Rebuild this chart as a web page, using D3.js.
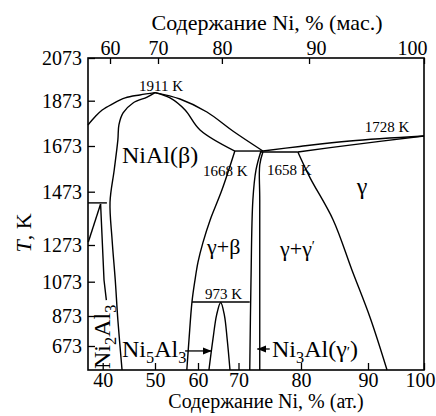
<!DOCTYPE html>
<html><head><meta charset="utf-8">
<script src="https://cdn.jsdelivr.net/npm/d3@7"></script>
<style>
body{margin:0;background:#fff}
svg{display:block}
text{font-family:"Liberation Serif","DejaVu Serif","Times New Roman",serif;fill:#000}
</style>
</head><body>
<svg id="c" width="436" height="416" font-family="Liberation Serif, DejaVu Serif, serif"></svg>
<script>
// ---------- data (at.% Ni, temperature K) ----------
const atTicks = [40, 50, 60, 70, 80, 90, 100];
const wtTicks = [60, 70, 80, 90, 100];
const wtTickAtPos = [41.4, 50.7, 65.9, 81.2, 100];   // where the wt.% ticks sit on the at.% axis
const tempTicks = [673, 873, 1073, 1273, 1473, 1673, 1873, 2073];

const liquidusAl = [[37.2,1766],[38.5,1801],[39.9,1832],[41.8,1858],[44.3,1886],[47.1,1900],[50,1911]];
const betaAlSide = [[50,1911],[48.5,1890],[45.8,1863],[43.9,1819],[43.1,1766],[42.9,1700],[42.2,1568],[41.4,1434],[41.8,1292],[42.4,1082],[42.9,846],[43.7,513]];
const liquidusMid = [[50,1911],[55.8,1881],[62.2,1823],[68.6,1739],[73.9,1651]];
const betaNiSideTop = [[50,1911],[53.5,1886],[57.0,1832],[60.5,1744],[69.1,1651]];
const betaNiSide = [[69.1,1651],[65.9,1480],[63.0,1367],[61.2,1281],[60.0,1180],[59.3,1082],[58.6,955],[57.9,713],[57.4,513]];
const peritectic1668 = [[69.1,1651],[73.9,1651]];
const peritectic1658 = [[73.6,1647],[79.5,1647]];
const gammaPrimeLeft = [[73.6,1651],[72.8,1568],[72.3,1442],[72.0,1082],[71.8,513]];
const gammaPrimeRight = [[73.9,1647],[73.4,1590],[73.4,1442],[73.4,513]];
const liquidusNi = [[73.9,1651],[79.8,1671],[87.3,1695],[100,1717]];
const solidusNi = [[79.5,1647],[87.3,1677],[100,1717]];
const gammaSolvus = [[79.5,1647],[81.3,1537],[84.8,1367],[87.6,1137],[90.4,860],[93.4,513]];
const eutectoid973 = [[58.6,955],[71.8,955]];
const ni5al3Dome = [[62.7,513],[63.7,720],[64.6,880],[65.6,952],[66.5,880],[67.2,720],[67.9,513]];
const peritectic1406 = [[37.2,1431],[40.8,1431]];
const ni2al3Line = [[39.6,1427],[40.25,1082],[40.7,966]];
const liquidusAlLow = [[39.6,1427],[37.26,1284]];
const arrowNi5Al3 = [[57.0,640],[63.4,640]];
const arrowNi3Al = [[75.0,653],[73.0,653]];

// ---------- layout ----------
const FONT = '"Liberation Serif","DejaVu Serif",serif';
const L = 88, R = 424, T = 58, B = 370;
const x = d3.scaleLinear()
  .domain([37.2, 40, 50, 60, 70, 80, 90, 100])
  .range([L, 102.7, 155, 198, 238.5, 301, 368, R]);
const y = d3.scaleLinear()
  .domain([513, 673, 873, 1073, 1273, 1473, 1673, 1873, 2073])
  .range([B, 346, 316, 281.7, 245, 191.7, 146, 100.7, T]);

const svg = d3.select("#c");
const g = svg.append("g");

// axes
const axB = d3.axisBottom(x).tickValues(atTicks).tickSize(-7).tickPadding(3).tickFormat(d3.format("d"));
const axL = d3.axisLeft(y).tickValues(tempTicks).tickSize(-7).tickPadding(6).tickFormat(d3.format("d"));
const axT = d3.axisTop(x).tickValues(wtTickAtPos).tickSize(-6).tickPadding(3)
  .tickFormat((d, i) => wtTicks[i]);

function styleAxis(sel) {
  sel.attr("font-family", FONT);
  sel.select(".domain").remove();
  sel.selectAll("line").attr("stroke", "#000").attr("stroke-width", 1.3);
  sel.selectAll("text").attr("font-size", 20).attr("font-family", FONT).attr("fill", "#000");
}
const gB = g.append("g").attr("transform", `translate(0,${B})`).call(axB).call(styleAxis);
g.append("g").attr("transform", `translate(${L},0)`).call(axL).call(styleAxis);
const gT = g.append("g").attr("transform", `translate(0,${T})`).call(axT).call(styleAxis);
// keep the last labels inside the window, as in the reference
gB.selectAll(".tick text").filter(d => d === 100).attr("text-anchor", "end").attr("x", 11);
gT.selectAll(".tick text").filter(d => d === 100).attr("text-anchor", "end").attr("x", 3);
gT.selectAll(".tick text").filter(d => d === 81.2).attr("x", 7);

// frame
g.append("rect").attr("x", L).attr("y", T).attr("width", R - L).attr("height", B - T)
  .attr("fill", "none").attr("stroke", "#000").attr("stroke-width", 1.6);

// curves
const smooth = d3.line().x(d => x(d[0])).y(d => y(d[1])).curve(d3.curveCatmullRom.alpha(0.5));
const straight = d3.line().x(d => x(d[0])).y(d => y(d[1]));
const smoothSets = [liquidusAl, betaAlSide, liquidusMid, betaNiSideTop, betaNiSide, gammaPrimeLeft,
  gammaPrimeRight, liquidusNi, solidusNi, gammaSolvus, ni5al3Dome];
const straightSets = [peritectic1668, peritectic1658, eutectoid973, peritectic1406, ni2al3Line, liquidusAlLow];
smoothSets.forEach(d => g.append("path").attr("d", smooth(d)).attr("fill", "none").attr("stroke", "#000").attr("stroke-width", 1.4));
straightSets.forEach(d => g.append("path").attr("d", straight(d)).attr("fill", "none").attr("stroke", "#000").attr("stroke-width", 1.4));

// arrows
svg.append("defs").append("marker").attr("id", "ah").attr("viewBox", "0 0 10 10")
  .attr("refX", 10).attr("refY", 5).attr("markerWidth", 9).attr("markerHeight", 9)
  .attr("markerUnits", "userSpaceOnUse").attr("orient", "auto")
  .append("path").attr("d", "M0,1 L10,5 L0,9 Z").attr("fill", "#000");
[arrowNi5Al3, arrowNi3Al].forEach(d => g.append("path").attr("d", straight(d))
  .attr("stroke", "#000").attr("stroke-width", 1.3).attr("marker-end", "url(#ah)"));

// text helpers
function rich(parent, px, py, parts, size, opts = {}) {
  const t = parent.append("text").attr("x", px).attr("y", py).attr("font-size", size).attr("font-family", FONT);
  if (opts.anchor) t.attr("text-anchor", opts.anchor);
  if (opts.transform) t.attr("transform", opts.transform);
  parts.forEach(p => {
    const s = t.append("tspan").text(p.t);
    if (p.sub) s.attr("font-size", size * 0.68).attr("dy", size * 0.25);
    if (p.up) s.attr("dy", -size * 0.25);
    if (p.it) s.attr("font-style", "italic");
    if (p.fs) s.attr("font-size", p.fs);
  });
  return t;
}
function label(px, py, str, size, anchor) {
  return g.append("text").attr("x", px).attr("y", py).attr("font-size", size)
    .attr("font-family", FONT).attr("text-anchor", anchor || "start").text(str);
}

// axis titles
label(267, 30, "Содержание Ni, % (мас.)", 22, "middle");
label(266, 408, "Содержание Ni, % (ат.)", 20, "middle");
rich(g, 0, 0, [{t: "T", it: true}, {t: ", K"}], 22, {anchor: "middle", transform: "translate(31,233) rotate(-90)"});

// labels
label(161, 91, "1911 K", 15, "middle");
label(387, 132, "1728 K", 15, "middle");
label(203, 176, "1668 K", 15);
label(267, 175, "1658 K", 15);
label(205, 299, "973 K", 15);
label(122, 163, "NiAl(β)", 24);
label(362, 194, "γ", 24, "middle");
label(207, 254, "γ+β", 22);
rich(g, 280, 256, [{t: "γ+γ"}, {t: "′", fs: 14, up: true}], 22);
rich(g, 122, 357, [{t: "Ni"}, {t: "5", sub: true}, {t: "Al", up: true}, {t: "3", sub: true}], 24);
rich(g, 272, 357, [{t: "Ni"}, {t: "3", sub: true}, {t: "Al(γ", up: true}, {t: "′", fs: 15}, {t: ")"}], 24);
rich(g, 0, 0, [{t: "Ni"}, {t: "2", sub: true}, {t: "Al", up: true}, {t: "3", sub: true}], 24,
  {transform: "translate(110,369) rotate(-90)"});
</script>
</body></html>
